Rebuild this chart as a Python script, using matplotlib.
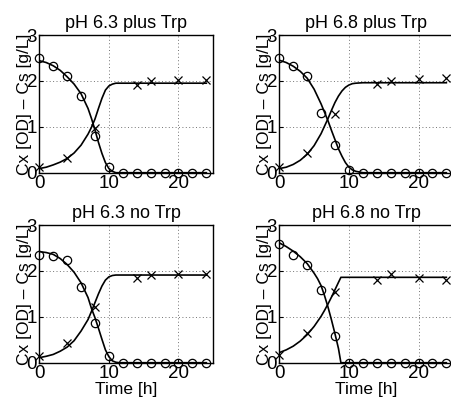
import numpy as np
import matplotlib
matplotlib.use("Agg")
import matplotlib.pyplot as plt

plt.rcParams['font.family'] = ['Liberation Sans', 'DejaVu Sans']

titles = ["pH 6.3 plus Trp", "pH 6.8 plus Trp", "pH 6.3 no Trp", "pH 6.8 no Trp"]

# measured points
t_s = [0, 2, 4, 6, 8, 10, 12, 14, 16, 18, 20, 22, 24]
s_meas = [
    [2.50, 2.32, 2.11, 1.68, 0.80, 0.13, 0, 0, 0, 0, 0, 0, 0],
    [2.50, 2.32, 2.11, 1.31, 0.60, 0.05, 0, 0, 0, 0, 0, 0, 0],
    [2.35, 2.32, 2.23, 1.66, 0.87, 0.15, 0, 0, 0, 0, 0, 0, 0],
    [2.59, 2.34, 2.13, 1.58, 0.58, 0, 0, 0, 0, 0, 0, 0, 0],
]
t_x = [0, 4, 8, 14, 16, 20, 24]
x_meas = [
    [0.12, 0.33, 0.98, 1.91, 1.99, 2.03, 2.02],
    [0.12, 0.44, 1.28, 1.93, 1.99, 2.04, 2.06],
    [0.15, 0.42, 1.21, 1.84, 1.90, 1.93, 1.93],
    [0.16, 0.64, 1.53, 1.80, 1.93, 1.84, 1.80],
]

# fitted model curves
fit_t = [
    [0, 1, 2, 3, 4, 5, 6, 7, 7.5, 8, 8.5, 9, 9.5, 10, 10.5, 11, 24],
    [0, 1, 2, 3, 4, 5, 6, 7, 7.5, 8, 8.5, 9, 9.5, 10, 10.5, 11, 12, 24],
    [0, 1, 2, 3, 4, 5, 6, 7, 7.5, 8, 8.5, 9, 9.5, 10, 10.5, 11, 11.5, 24],
    [0, 1, 2, 3, 4, 5, 5.5, 6, 6.5, 7, 7.5, 8, 8.5, 8.85, 24],
]
fit_s = [
    [2.44, 2.40, 2.33, 2.23, 2.09, 1.93, 1.72, 1.40, 1.18, 0.93, 0.66, 0.42, 0.22, 0.09, 0.03, 0.0, 0.0],
    [2.45, 2.40, 2.32, 2.21, 2.06, 1.82, 1.50, 1.13, 0.92, 0.72, 0.52, 0.36, 0.22, 0.12, 0.06, 0.03, 0.0, 0.0],
    [2.42, 2.40, 2.36, 2.27, 2.14, 1.97, 1.74, 1.42, 1.18, 0.98, 0.75, 0.51, 0.28, 0.13, 0.04, 0.01, 0.0, 0.0],
    [2.61, 2.53, 2.43, 2.31, 2.16, 1.95, 1.83, 1.68, 1.46, 1.21, 0.93, 0.63, 0.31, 0.0, 0.0],
]
fit_x = [
    [0.09, 0.12, 0.17, 0.23, 0.31, 0.43, 0.60, 0.84, 0.99, 1.17, 1.40, 1.62, 1.80, 1.89, 1.93, 1.95, 1.95],
    [0.09, 0.12, 0.18, 0.27, 0.40, 0.59, 0.85, 1.18, 1.36, 1.53, 1.67, 1.78, 1.86, 1.91, 1.94, 1.95, 1.96, 1.96],
    [0.11, 0.14, 0.18, 0.25, 0.34, 0.48, 0.69, 0.94, 1.12, 1.31, 1.50, 1.67, 1.80, 1.87, 1.90, 1.91, 1.91, 1.91],
    [0.22, 0.28, 0.36, 0.47, 0.61, 0.79, 0.90, 1.01, 1.14, 1.28, 1.43, 1.59, 1.75, 1.86, 1.86],
]

fig = plt.figure(figsize=(4.52, 4.05), dpi=100)
W, H = 452.0, 405.0
lefts = [39.3, 279.3]
tops = [35.0, 225.0]
aw, ah = 174.0, 137.7

for i in range(4):
    r, c = divmod(i, 2)
    ax = fig.add_axes([lefts[c] / W, (H - tops[r] - ah) / H, aw / W, ah / H])
    ax.plot(fit_t[i], fit_s[i], color='k', lw=1.2)
    ax.plot(fit_t[i], fit_x[i], color='k', lw=1.2)
    ax.plot(t_s, s_meas[i], 'o', ms=6, mfc='none', mec='k', mew=0.9, clip_on=False)
    ax.plot(t_x, x_meas[i], 'x', ms=6, mec='k', mew=0.9, clip_on=False)
    ax.set_xlim(0, 25)
    ax.set_ylim(0, 3)
    ax.set_xticks([0, 10, 20])
    ax.set_yticks([0, 1, 2, 3])
    ax.grid(True, linestyle=(0, (1, 2.5)), color='0.45', lw=0.7)
    ax.tick_params(direction='in', length=3, width=0.8, labelsize=13.5, pad=1.5)
    for sp in ax.spines.values():
        sp.set_linewidth(1.0)
    ax.set_title(titles[i], fontsize=13, pad=5)
    ax.set_ylabel("Cx [OD] \u2013 Cs [g/L]", fontsize=12.5)
    ax.yaxis.set_label_coords(-0.04, 0.5)
    if r == 1:
        ax.set_xlabel("Time [h]", fontsize=12.5, labelpad=0)

fig.savefig("out.png", dpi=100)
